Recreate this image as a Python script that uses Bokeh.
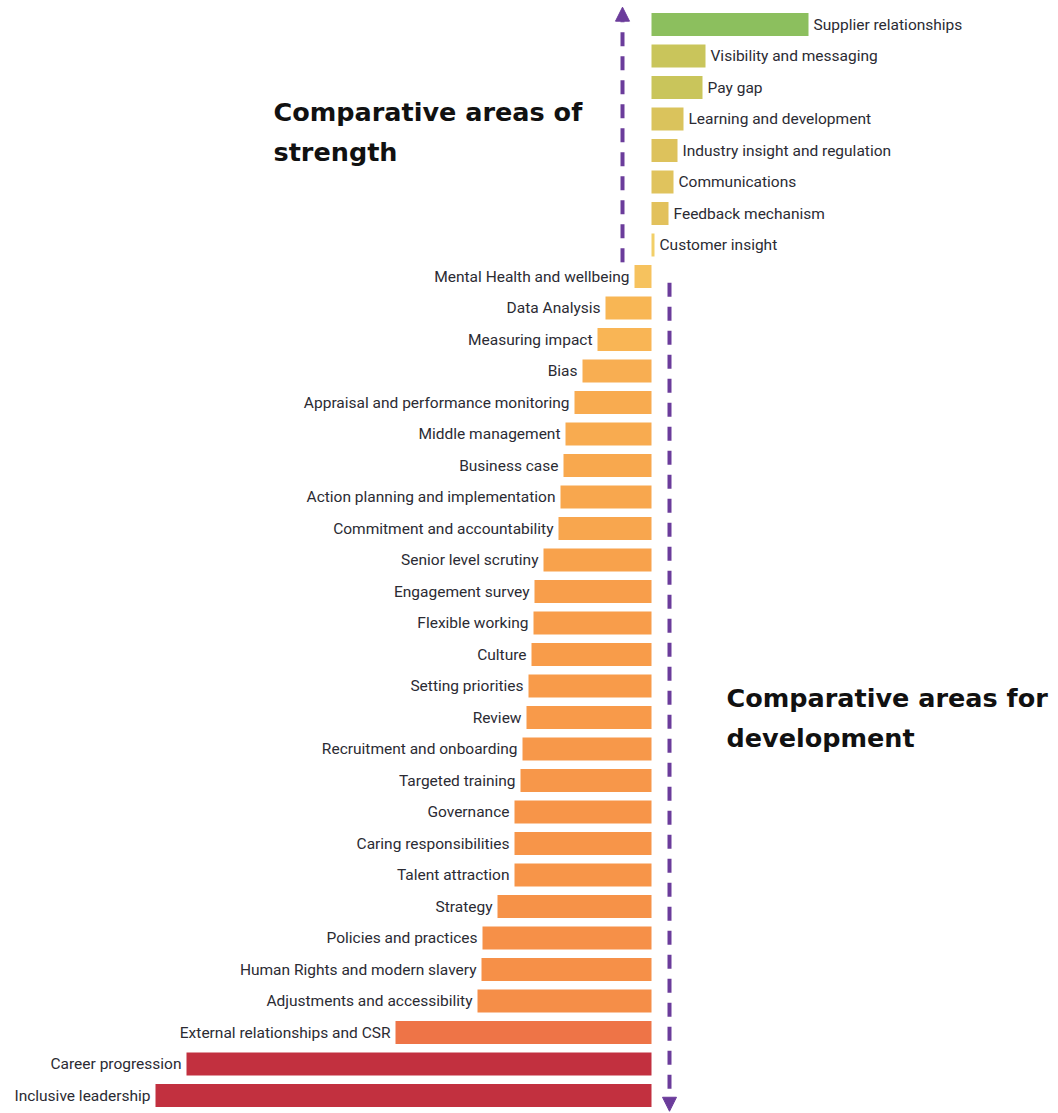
from bokeh.plotting import figure
from bokeh.models import ColumnDataSource, Range1d, Arrow, NormalHead, Label
from bokeh.core.properties import value
from bokeh.embed import file_html
from bokeh.resources import INLINE

# ---- data (relative score; positive = strength, negative = development) ----
categories = [
    "Supplier relationships", "Visibility and messaging", "Pay gap",
    "Learning and development", "Industry insight and regulation",
    "Communications", "Feedback mechanism", "Customer insight",
    "Mental Health and wellbeing", "Data Analysis", "Measuring impact", "Bias",
    "Appraisal and performance monitoring", "Middle management", "Business case",
    "Action planning and implementation", "Commitment and accountability",
    "Senior level scrutiny", "Engagement survey", "Flexible working", "Culture",
    "Setting priorities", "Review", "Recruitment and onboarding",
    "Targeted training", "Governance", "Caring responsibilities",
    "Talent attraction", "Strategy", "Policies and practices",
    "Human Rights and modern slavery", "Adjustments and accessibility",
    "External relationships and CSR", "Career progression", "Inclusive leadership",
]
scores = [
    157, 54, 51, 32, 26, 22, 17, 3,
    -17, -46, -54, -69, -77, -86, -88, -91, -93, -108, -117, -118, -120,
    -123, -125, -129, -131, -137, -137, -137, -154, -169, -170, -174,
    -256, -465, -496,
]

# ---- styles ----
bar_colors = [
    "#8cbf5e", "#c9c55b", "#c9c55b", "#dac35c", "#ddc25c", "#e0c35d", "#e2c15c", "#f2cf68",
    "#f6c25e", "#f8b654", "#f9b555", "#f8ae52", "#f8ab50", "#f8ab50", "#f8a84e",
    "#f8a74e", "#f8a64e", "#f8a24c", "#f89e4b", "#f89d4b", "#f89c4a", "#f89b4a",
    "#f89a4a", "#f7984a", "#f7974a", "#f79549", "#f79549", "#f79549", "#f69248",
    "#f69048", "#f69048", "#f58e48", "#ee7447", "#c2303f", "#c2303f",
]

W, H = 1058, 1113
ZERO_PX = 651
TOP_PX, STEP_PX = 24, 31.5

n = len(categories)
ypos = [-i for i in range(n)]

p = figure(width=W, height=H, output_backend="svg", toolbar_location=None,
           x_range=Range1d(-ZERO_PX, W - ZERO_PX),
           y_range=Range1d(-(H - TOP_PX) / STEP_PX, TOP_PX / STEP_PX),
           min_border=0, outline_line_color=None)
p.axis.visible = False
p.grid.visible = False
p.background_fill_color = "white"
p.border_fill_color = "white"

pos_idx = [i for i, v in enumerate(scores) if v >= 0]
neg_idx = [i for i, v in enumerate(scores) if v < 0]

src = ColumnDataSource(dict(y=ypos, right=scores, left=[0] * n,
                            color=bar_colors, label=categories))
p.hbar(y="y", left="left", right="right", height=0.73, fill_color="color",
       line_color=None, source=src)

pos_src = ColumnDataSource(dict(x=[scores[i] for i in pos_idx], y=[ypos[i] for i in pos_idx],
                                t=[categories[i] for i in pos_idx]))
neg_src = ColumnDataSource(dict(x=[scores[i] for i in neg_idx], y=[ypos[i] for i in neg_idx],
                                t=[categories[i] for i in neg_idx]))
common = dict(text="t", text_font=value("Roboto"), text_font_size="15.5px",
              text_color="#2b2b33", text_baseline="middle")
p.text(x="x", y="y", source=pos_src, x_offset=5, text_align="left", **common)
p.text(x="x", y="y", source=neg_src, x_offset=-5, text_align="right", **common)

# ---- arrows ----
purple = "#6b3c9b"
up = Arrow(end=NormalHead(size=14, fill_color=purple, line_color=purple),
           x_start=-29, y_start=-7.55, x_end=-29, y_end=0.55,
           line_color=purple, line_width=4, line_dash="14 10")
down = Arrow(end=NormalHead(size=14, fill_color=purple, line_color=purple),
             x_start=18, y_start=-8.2, x_end=18, y_end=-34.5,
             line_color=purple, line_width=4, line_dash="14 10")
p.add_layout(up)
p.add_layout(down)

# ---- headings ----
hfont = dict(text_font="DejaVu Sans", text_font_size="25.5px", text_font_style="bold",
             text_color="#111111", x_units="screen", y_units="screen",
             text_baseline="middle")
for txt, x, y in [("Comparative areas of", 273, H - 111), ("strength", 273, H - 151),
                  ("Comparative areas for", 726, H - 697), ("development", 726, H - 737)]:
    p.add_layout(Label(text=txt, x=x, y=y, **hfont))

open("out.html", "w").write(file_html(p, INLINE))
